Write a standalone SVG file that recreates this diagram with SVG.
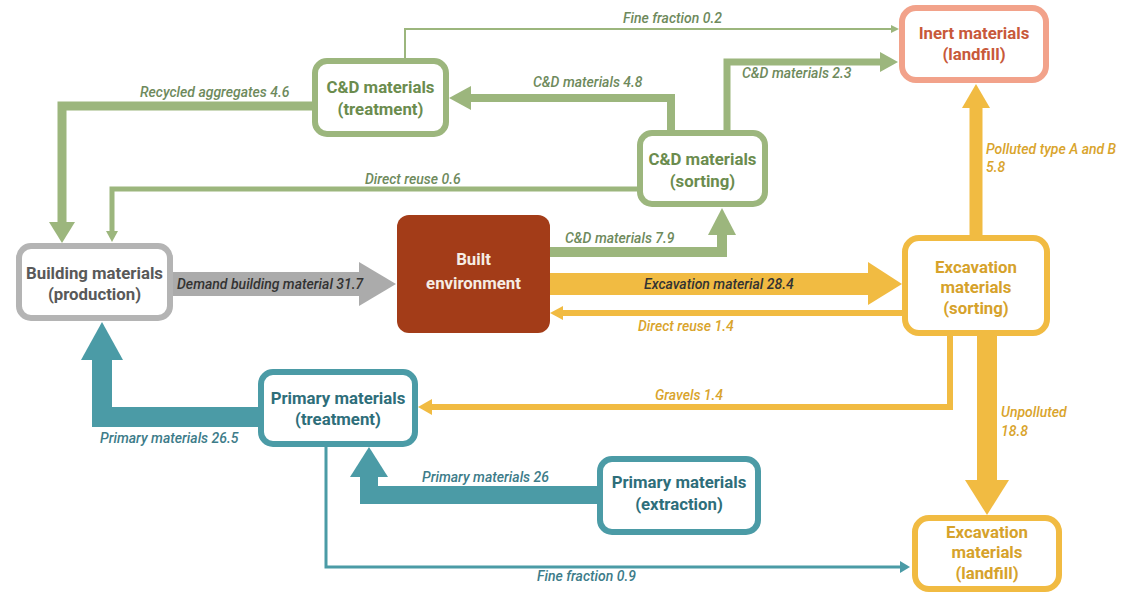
<svg xmlns="http://www.w3.org/2000/svg" width="1132" height="594" viewBox="0 0 1132 594">
<style>
.node rect{fill:#fff;stroke-width:6}
.nt{font-family:Roboto,"Liberation Sans",sans-serif;font-weight:bold;font-size:16.8px;text-anchor:middle}
.lb{font-family:Roboto,"Liberation Sans",sans-serif;font-style:italic;font-weight:500;font-size:14px}
.g{stroke:#9cb67d;fill:none}
.gf{fill:#9cb67d}
.y{stroke:#f1bb42;fill:none}
.yf{fill:#f1bb42}
.t{stroke:#4b9ba6;fill:none}
.tf{fill:#4b9ba6}
.gr{stroke:#ababab;fill:none}
.grf{fill:#ababab}
.lg{fill:#6e8a5c}
.ly{fill:#d9a42c}
.lt{fill:#3d7c89}
.ld{fill:#333}
</style>
<rect width="1132" height="594" fill="#fff"/>
<g id="connectors" stroke-linejoin="miter">
  <!-- Fine fraction 0.2 -->
  <path class="g" stroke-width="2" d="M405,58 V29 H891"/>
  <polygon class="gf" points="891,25 899,29 891,33"/>
  <text class="lb lg" x="623" y="23">Fine fraction 0.2</text>
  <!-- Recycled aggregates 4.6 -->
  <path class="g" stroke-width="9" d="M312,106 H62 V223"/>
  <polygon class="gf" points="49,222 62,243 75,222"/>
  <text class="lb lg" x="140" y="97">Recycled aggregates 4.6</text>
  <!-- C&D materials 4.8 -->
  <path class="g" stroke-width="8" d="M671,130 V98 H470"/>
  <polygon class="gf" points="471,86 449,98 471,110"/>
  <text class="lb lg" x="533" y="87">C&amp;D materials 4.8</text>
  <!-- C&D materials 2.3 -->
  <path class="g" stroke-width="7" d="M727,130 V62 H881"/>
  <polygon class="gf" points="880,52 898,62 880,72"/>
  <text class="lb lg" x="742" y="78">C&amp;D materials 2.3</text>
  <!-- Direct reuse 0.6 -->
  <path class="g" stroke-width="5" d="M637,189 H112 V231"/>
  <polygon class="gf" points="106,231 112,242 118,231"/>
  <text class="lb lg" x="365" y="184">Direct reuse 0.6</text>
  <!-- C&D materials 7.9 -->
  <path class="g" stroke-width="10" d="M550,252 H722 V234"/>
  <polygon class="gf" points="708,235 722,208 736,235"/>
  <text class="lb lg" x="565" y="243">C&amp;D materials 7.9</text>
  <!-- Demand building material 31.7 -->
  <path class="gr" stroke-width="24" d="M173,284 H360"/>
  <polygon class="grf" points="359,262 396,284 359,306"/>
  <text class="lb ld" x="177" y="289">Demand building material 31.7</text>
  <!-- Excavation material 28.4 -->
  <path class="y" stroke-width="22" d="M550,284 H869"/>
  <polygon class="yf" points="868,262 902,284 868,305"/>
  <text class="lb ld" x="644" y="289">Excavation material 28.4</text>
  <!-- Direct reuse 1.4 -->
  <path class="y" stroke-width="6" d="M902,313 H562"/>
  <polygon class="yf" points="563,306 550,313 563,320"/>
  <text class="lb ly" x="638" y="331">Direct reuse 1.4</text>
  <!-- Polluted type A and B 5.8 -->
  <path class="y" stroke-width="13" d="M976,235 V107"/>
  <polygon class="yf" points="962,108 976,84 990,108"/>
  <text class="lb ly" x="986" y="154">Polluted type A and B</text>
  <text class="lb ly" x="986" y="172">5.8</text>
  <!-- Unpolluted 18.8 -->
  <path class="y" stroke-width="20" d="M987,335 V481"/>
  <polygon class="yf" points="965,480 987,515 1009,480"/>
  <text class="lb ly" x="1001" y="417">Unpolluted</text>
  <text class="lb ly" x="1001" y="436">18.8</text>
  <!-- Gravels 1.4 -->
  <path class="y" stroke-width="6" d="M950,335 V407 H431"/>
  <polygon class="yf" points="432,399 418,407 432,415"/>
  <text class="lb ly" x="655" y="400">Gravels 1.4</text>
  <!-- Primary materials 26.5 -->
  <path class="t" stroke-width="20" d="M258,417 H102 V359"/>
  <polygon class="tf" points="81,360 102,322 123,360"/>
  <text class="lb lt" x="100" y="443">Primary materials 26.5</text>
  <!-- Primary materials 26 -->
  <path class="t" stroke-width="18" d="M597,495 H369 V476"/>
  <polygon class="tf" points="350,477 369,447 388,477"/>
  <text class="lb lt" x="422" y="482">Primary materials 26</text>
  <!-- Fine fraction 0.9 -->
  <path class="t" stroke-width="3" d="M326,447 V567 H901"/>
  <polygon class="tf" points="900,561 910,567 900,573"/>
  <text class="lb lt" x="537" y="581">Fine fraction 0.9</text>
</g>
<g id="building-materials" class="node">
  <rect x="19" y="246" width="151" height="72" rx="12" stroke="#b4b4b4"/>
  <text class="nt" x="94.5" y="279" fill="#595959">Building materials</text>
  <text class="nt" x="94.5" y="300" fill="#595959">(production)</text>
</g>
<g id="built-environment">
  <rect x="397" y="215" width="153" height="118" rx="12" fill="#a33c18"/>
  <text class="nt" x="473.5" y="265" fill="#f6ede4" font-size="19">Built</text>
  <text class="nt" x="473.5" y="289" fill="#f6ede4" font-size="19">environment</text>
</g>
<g id="cd-treatment" class="node">
  <rect x="315" y="61" width="131" height="73" rx="12" stroke="#9cb67d"/>
  <text class="nt" x="380.5" y="93" fill="#6b8c4e">C&amp;D materials</text>
  <text class="nt" x="380.5" y="115" fill="#6b8c4e">(treatment)</text>
</g>
<g id="cd-sorting" class="node">
  <rect x="640" y="133" width="125" height="71" rx="12" stroke="#9cb67d"/>
  <text class="nt" x="702.5" y="165" fill="#6b8c4e">C&amp;D materials</text>
  <text class="nt" x="702.5" y="187" fill="#6b8c4e">(sorting)</text>
</g>
<g id="inert-landfill" class="node">
  <rect x="902" y="8" width="144" height="72" rx="14" stroke="#f2a28a"/>
  <text class="nt" x="974" y="39" fill="#c8593a">Inert materials</text>
  <text class="nt" x="974" y="60" fill="#c8593a">(landfill)</text>
</g>
<g id="excavation-sorting" class="node">
  <rect x="905" y="238" width="142" height="95" rx="14" stroke="#f1bb42"/>
  <text class="nt" x="976" y="273" fill="#d6a22b">Excavation</text>
  <text class="nt" x="976" y="293" fill="#d6a22b">materials</text>
  <text class="nt" x="976" y="314" fill="#d6a22b">(sorting)</text>
</g>
<g id="excavation-landfill" class="node">
  <rect x="915" y="518" width="144" height="71" rx="14" stroke="#f1bb42"/>
  <text class="nt" x="987" y="538" fill="#d6a22b">Excavation</text>
  <text class="nt" x="987" y="558" fill="#d6a22b">materials</text>
  <text class="nt" x="987" y="579" fill="#d6a22b">(landfill)</text>
</g>
<g id="primary-treatment" class="node">
  <rect x="261" y="372" width="154" height="72" rx="12" stroke="#4b9ba6"/>
  <text class="nt" x="338" y="404" fill="#2e6e7a">Primary materials</text>
  <text class="nt" x="338" y="425" fill="#2e6e7a">(treatment)</text>
</g>
<g id="primary-extraction" class="node">
  <rect x="600" y="459" width="158" height="73" rx="12" stroke="#4b9ba6"/>
  <text class="nt" x="679" y="488" fill="#2e6e7a">Primary materials</text>
  <text class="nt" x="679" y="510" fill="#2e6e7a">(extraction)</text>
</g>
</svg>
